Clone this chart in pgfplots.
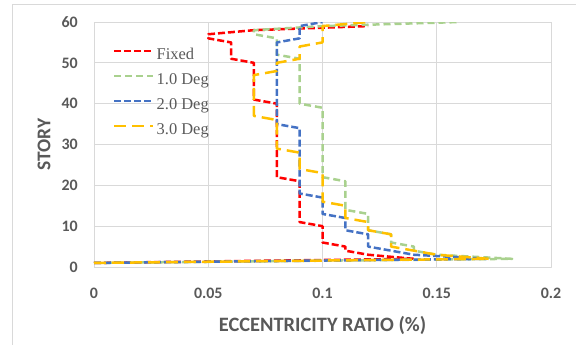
\documentclass[border=0pt]{standalone}
\usepackage{fontspec}
\setmainfont{Carlito}
\newfontfamily\legfont{Liberation Serif}
\usepackage{pgfplots}
\usepackage{pgfplotstable}
\pgfplotsset{compat=1.18}
\definecolor{cRed}{HTML}{FF0000}
\definecolor{cGreen}{HTML}{A9D18E}
\definecolor{cBlue}{HTML}{4472C4}
\definecolor{cYellow}{HTML}{FFC000}
\definecolor{txt}{HTML}{595959}
\definecolor{gridc}{HTML}{D9D9D9}

% story  eccentricity
\pgfplotstableread{
s e
1 0.00
2 0.14
3 0.12
4 0.11
5 0.11
6 0.10
7 0.10
8 0.10
9 0.10
10 0.10
11 0.09
12 0.09
13 0.09
14 0.09
15 0.09
16 0.09
17 0.09
18 0.09
19 0.09
20 0.09
21 0.09
22 0.08
23 0.08
24 0.08
25 0.08
26 0.08
27 0.08
28 0.08
29 0.08
30 0.08
31 0.08
32 0.08
33 0.08
34 0.08
35 0.08
36 0.08
37 0.08
38 0.08
39 0.08
40 0.08
41 0.07
42 0.07
43 0.07
44 0.07
45 0.07
46 0.07
47 0.07
48 0.07
49 0.07
50 0.07
51 0.06
52 0.06
53 0.06
54 0.06
55 0.06
56 0.05
57 0.05
58 0.07
59 0.12
}\fixed

\pgfplotstableread{
s e
1 0.00
2 0.183
3 0.15
4 0.14
5 0.14
6 0.13
7 0.13
8 0.13
9 0.12
10 0.12
11 0.12
12 0.12
13 0.12
14 0.11
15 0.11
16 0.11
17 0.11
18 0.11
19 0.11
20 0.11
21 0.11
22 0.10
23 0.10
24 0.10
25 0.10
26 0.10
27 0.10
28 0.10
29 0.10
30 0.10
31 0.10
32 0.10
33 0.10
34 0.10
35 0.10
36 0.10
37 0.10
38 0.10
39 0.10
40 0.09
41 0.09
42 0.09
43 0.09
44 0.09
45 0.09
46 0.09
47 0.09
48 0.09
49 0.09
50 0.09
51 0.09
52 0.08
53 0.08
54 0.08
55 0.08
56 0.08
57 0.07
58 0.07
59 0.10
60 0.16
}\degone

\pgfplotstableread{
s e
1 0.00
2 0.172
3 0.14
4 0.13
5 0.12
6 0.12
7 0.12
8 0.12
9 0.11
10 0.11
11 0.11
12 0.11
13 0.10
14 0.10
15 0.10
16 0.10
17 0.10
18 0.09
19 0.09
20 0.09
21 0.09
22 0.09
23 0.09
24 0.09
25 0.09
26 0.09
27 0.09
28 0.09
29 0.09
30 0.09
31 0.09
32 0.09
33 0.09
34 0.09
35 0.08
36 0.08
37 0.08
38 0.08
39 0.08
40 0.08
41 0.08
42 0.08
43 0.08
44 0.08
45 0.08
46 0.08
47 0.08
48 0.08
49 0.08
50 0.08
51 0.08
52 0.08
53 0.08
54 0.08
55 0.08
56 0.09
57 0.09
58 0.09
59 0.09
60 0.10
}\degtwo

\pgfplotstableread{
s e
1 0.00
2 0.173
3 0.15
4 0.14
5 0.13
6 0.13
7 0.13
8 0.13
9 0.12
10 0.12
11 0.12
12 0.11
13 0.11
14 0.11
15 0.11
16 0.10
17 0.10
18 0.10
19 0.10
20 0.10
21 0.10
22 0.10
23 0.10
24 0.09
25 0.09
26 0.09
27 0.09
28 0.09
29 0.08
30 0.08
31 0.08
32 0.08
33 0.08
34 0.08
35 0.08
36 0.08
37 0.07
38 0.07
39 0.07
40 0.07
41 0.07
42 0.07
43 0.07
44 0.07
45 0.07
46 0.07
47 0.07
48 0.08
49 0.08
50 0.08
51 0.09
52 0.09
53 0.09
54 0.09
55 0.10
56 0.10
57 0.10
58 0.10
59 0.10
60 0.12
}\degthree

\begin{document}
\begin{tikzpicture}
\begin{axis}[
  anchor=south west,
  scale only axis, width=457bp, height=245bp,
  xmin=0, xmax=0.2, ymin=0, ymax=60,
  xtick={0,0.05,0.1,0.15,0.2}, xticklabels={0,0.05,0.1,0.15,0.2},
  ytick={0,10,20,30,40,50,60}, yticklabels={0,10,20,30,40,50,60},
  grid=major, major grid style={gridc, line width=0.75bp},
  axis line style={gridc, line width=0.75bp},
  major tick length=0pt, tick style={draw=none},
  ticklabel style={font=\fontsize{16}{19}\selectfont\bfseries, text=txt, inner sep=0pt},
  xticklabel style={anchor=center, yshift=-26bp},
  yticklabel style={anchor=east, xshift=-16bp},
  xlabel={ECCENTRICITY RATIO (\%)}, ylabel={STORY},
  label style={text=txt, inner sep=0pt},
  x label style={font=\fontsize{20.5}{24}\selectfont\bfseries, at={(axis description cs:0.5,-0.237)}, anchor=center},
  y label style={font=\fontsize{19.5}{23}\selectfont\bfseries, at={(axis description cs:-0.109,0.5)}, anchor=center},
  legend style={draw=none, fill=none, at={(axis description cs:0.0416,0.898)}, anchor=north west,
    inner sep=0pt, row sep=9bp, column sep=2bp,
    font=\legfont\fontsize{16.5}{19}\selectfont, text=txt,
    nodes={inner sep=0pt, text height=12bp, text depth=4bp}},
  legend cell align=left,
  legend image code/.code={\draw[#1] (0bp,4bp) -- (39bp,4bp);},
  line join=round,
]
\addplot[cRed, line width=2.5bp, dash pattern=on 7bp off 3bp] table[x=e, y=s] {\fixed};
\addlegendentry{Fixed}
\addplot[cGreen, line width=2.5bp, dash pattern=on 7bp off 4bp] table[x=e, y=s] {\degone};
\addlegendentry{1.0 Deg}
\addplot[cBlue, line width=2.5bp, dash pattern=on 7bp off 3bp] table[x=e, y=s] {\degtwo};
\addlegendentry{2.0 Deg}
\addplot[cYellow, line width=2.5bp, dash pattern=on 12bp off 6bp] table[x=e, y=s] {\degthree};
\addlegendentry{3.0 Deg}
\end{axis}
\draw[gridc, line width=0.75bp] (-81.5bp,-83bp) -- (-81.5bp,263bp) -- (496bp,263bp);
\pgfresetboundingbox
\useasboundingbox (-94bp,-78bp) rectangle (482bp,267bp);
\end{tikzpicture}
\end{document}
